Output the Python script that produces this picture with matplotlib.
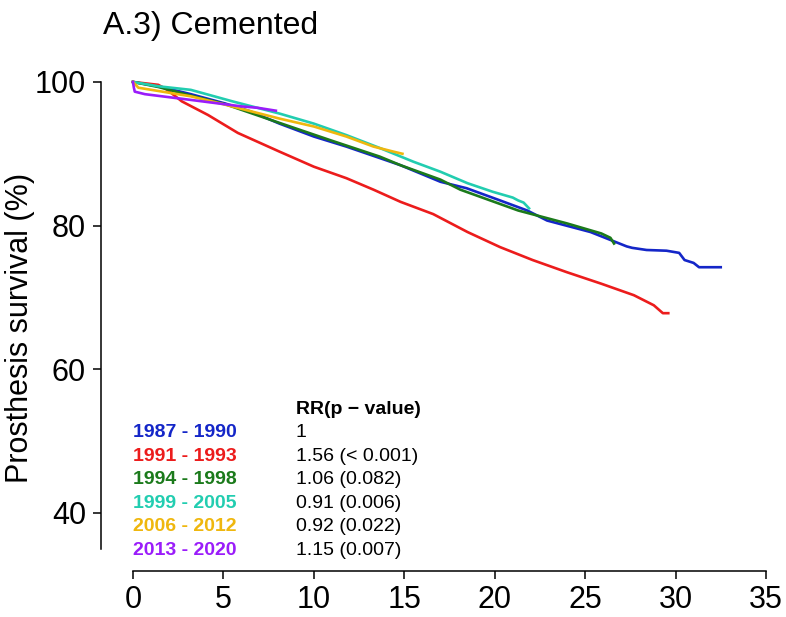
import matplotlib
matplotlib.use("Agg")
import matplotlib.pyplot as plt

plt.rcParams['font.family'] = ['Liberation Sans', 'DejaVu Sans']

# Prosthesis survival curves by period (years since operation, % surviving)
periods = ['1987 - 1990', '1991 - 1993', '1994 - 1998', '1999 - 2005', '2006 - 2012', '2013 - 2020']
rr_labels = ['1', '1.56 (< 0.001)', '1.06 (0.082)', '0.91 (0.006)', '0.92 (0.022)', '1.15 (0.007)']
colors = ['#1426C8', '#EC1C1C', '#1B7A1B', '#22CDB0', '#EFB70E', '#9A1CFA']

t_8790 = [0, 1.4, 3.2, 5.1, 6.5, 8.1, 10.0, 11.8, 13.65, 14.8, 17.0, 18.45, 20.3, 21.8, 22.9,
          25.3, 26.5, 27.3, 27.6, 28.4, 29.5, 30.2, 30.5, 31.0, 31.3, 32.5]
s_8790 = [100, 99.4, 98.3, 97.0, 95.9, 94.2, 92.4, 91.0, 89.4, 88.4, 86.1, 85.2, 83.5, 82.1, 80.7,
          79.1, 77.9, 77.1, 76.9, 76.6, 76.5, 76.2, 75.2, 74.8, 74.2, 74.2]

t_9193 = [0, 1.4, 1.9, 2.7, 4.15, 5.8, 8.1, 10.0, 11.8, 13.3, 14.8, 16.6, 18.5, 20.3, 22.1,
          24.0, 25.9, 27.7, 28.8, 29.3, 29.6]
s_9193 = [100, 99.6, 98.9, 97.3, 95.4, 92.9, 90.3, 88.2, 86.6, 85.0, 83.3, 81.6, 79.1, 77.0, 75.2,
          73.5, 71.9, 70.3, 68.9, 67.8, 67.8]

t_9498 = [0, 1.4, 3.2, 5.1, 8.1, 10.9, 13.65, 14.8, 17.0, 18.1, 21.3, 24.0, 25.9, 26.4, 26.6]
s_9498 = [100, 99.3, 98.1, 96.9, 94.3, 91.9, 89.6, 88.4, 86.4, 85.0, 82.1, 80.3, 78.9, 78.3, 77.5]

t_9905 = [0, 1.4, 3.2, 5.5, 8.1, 10.0, 11.8, 13.65, 15.5, 17.0, 18.5, 19.9, 21.0, 21.3, 21.6, 21.9]
s_9905 = [100, 99.4, 98.9, 97.3, 95.6, 94.2, 92.6, 90.8, 88.9, 87.5, 85.9, 84.7, 83.9, 83.5, 83.2, 82.4]

t_0612 = [0, 0.3, 3.2, 5.0, 8.1, 10.0, 11.8, 13.3, 14.4, 14.9]
s_0612 = [100, 99.2, 98.0, 96.9, 94.9, 93.8, 92.4, 91.0, 90.3, 90.0]

t_1320 = [0, 0.05, 0.1, 0.66, 3.2, 6.0, 6.9, 7.9]
s_1320 = [100, 99.2, 98.65, 98.3, 97.5, 96.6, 96.4, 96.0]

times = [t_8790, t_9193, t_9498, t_9905, t_0612, t_1320]
surv = [s_8790, s_9193, s_9498, s_9905, s_0612, s_1320]

fig = plt.figure(figsize=(7.86, 6.17), dpi=100)
ax = fig.add_axes([0.1289, 0.0746, 0.8686, 0.8042])

for t, s, c in zip(times, surv, colors):
    ax.plot(t, s, color=c, lw=1.9, solid_joinstyle='round')

ax.set_xlim(-1.75, 36)
ax.set_ylim(31.9, 101)
ax.set_xticks(range(0, 36, 5))
ax.set_yticks([40, 60, 80, 100])
ax.spines['top'].set_visible(False)
ax.spines['right'].set_visible(False)
ax.spines['left'].set_bounds(35, 100)
ax.spines['bottom'].set_bounds(0, 35)
for sp in ('left', 'bottom'):
    ax.spines[sp].set_linewidth(1.1)
ax.tick_params(axis='both', length=6, width=1.1, labelsize=22)
ax.tick_params(axis='y', pad=5)
ax.tick_params(axis='x', pad=4)

# RR table in the lower left of the plot area
row_y = [54.4 - 3.27 * i for i in range(7)]
ax.text(9.0, row_y[0], 'RR(p − value)', fontsize=14, fontweight='bold', va='center', ha='left')
for i, (p, rr, c) in enumerate(zip(periods, rr_labels, colors)):
    ax.text(0, row_y[i + 1], p, fontsize=14, fontweight='bold', color=c, va='center', ha='left')
    ax.text(9.0, row_y[i + 1], rr, fontsize=14, va='center', ha='left')

fig.text(0.131, 1 - 26 / 617, 'A.3) Cemented', fontsize=23, va='center', ha='left')
fig.text(20 / 786, 1 - 328 / 617, 'Prosthesis survival (%)', fontsize=22, rotation=90,
         va='center', ha='center')

fig.savefig('out.png', dpi=100)
